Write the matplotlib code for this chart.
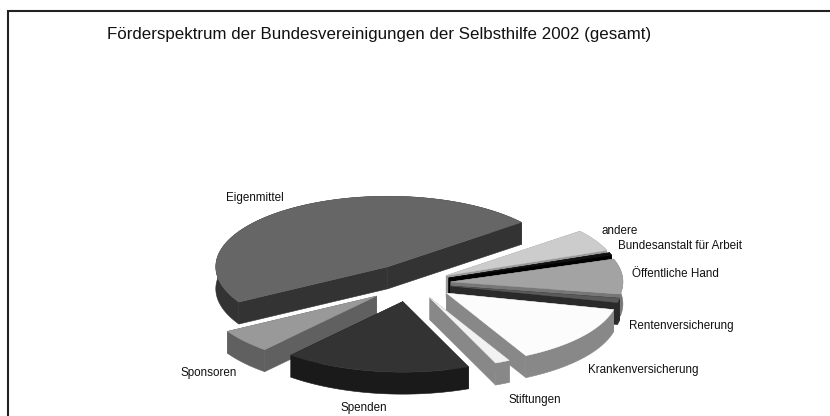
import numpy as np
import matplotlib
matplotlib.use('Agg')
import matplotlib.pyplot as plt
from matplotlib.patches import Polygon

plt.rcParams['font.family'] = ['Liberation Sans', 'DejaVu Sans']

# Shares in percent, clockwise on screen, starting at the "andere" slice
labels = ['andere', 'Bundesanstalt für Arbeit', 'Öffentliche Hand', 'Rentenversicherung',
          'Krankenversicherung', 'Stiftungen', 'Spenden', 'Sponsoren', 'Eigenmittel']
shares = [5.0, 0.6, 8.0, 1.0, 13.6, 1.4, 17.5, 5.4, 47.5]
top_colors = ['#cccccc', '#111111', '#a3a3a3', '#5a5a5a', '#fcfcfc', '#f2f2f2', '#333333', '#999999', '#666666']
side_colors = ['#999999', '#000000', '#777777', '#2a2a2a', '#888888', '#888888', '#1a1a1a', '#606060', '#333333']
explode = [36, 36, 36, 36, 40, 40, 46, 50, 48]
nudge_x = [0, 0, 0, 0, 0, -2, -5, 0, 0]
label_x = [601, 618, 632, 629, 588, 508, 340, 180, 226]
label_y = [231, 246, 274, 326, 370, 400, 408, 373, 198]

start_angle = -39
cx, cy = 415, 283
rx, tilt = 172, 0.41
depth = 22
# painter's order, back to front
draw_order = [8, 0, 1, 2, 3, 4, 5, 7, 6]

fig = plt.figure(figsize=(8.3, 4.16), dpi=100)
ax = fig.add_axes([0, 0, 1, 1])
ax.set_xlim(0, 830)
ax.set_ylim(416, 0)
ax.axis('off')

angles = start_angle + np.cumsum([0] + shares) * 3.6

for i in draw_order:
    a0, a1 = np.radians(angles[i]), np.radians(angles[i + 1])
    mid = (a0 + a1) / 2
    ox = cx + nudge_x[i] + explode[i] * np.cos(mid)
    oy = cy + explode[i] * np.sin(mid) * tilt
    t = np.linspace(a0, a1, max(int(np.degrees(a1 - a0)), 2) + 1)
    arc = np.column_stack([ox + rx * np.cos(t), oy + rx * tilt * np.sin(t)])
    apex = np.array([ox, oy])
    down = np.array([0, depth])

    # side walls: outer rim band plus the two cut faces
    rim = np.vstack([arc, (arc + down)[::-1]])
    cut0 = np.array([apex, arc[0], arc[0] + down, apex + down])
    cut1 = np.array([apex, arc[-1], arc[-1] + down, apex + down])
    for wall in (rim, cut0, cut1):
        ax.add_patch(Polygon(wall, closed=True, fc=side_colors[i], ec=side_colors[i], lw=0.4))
    ax.add_patch(Polygon(np.vstack([apex, arc]), closed=True, fc=top_colors[i], ec=top_colors[i], lw=0.3))

for name, x, y in zip(labels, label_x, label_y):
    ax.text(x, y, name, fontsize=8.4, ha='left', va='center', color='#111111')

ax.text(107, 34, 'Förderspektrum der Bundesvereinigungen der Selbsthilfe 2002 (gesamt)',
        fontsize=12.2, ha='left', va='center', color='#111111')

# frame only on the left and top
ax.plot([8, 8, 830], [416, 11, 11], color='#222222', lw=1.5, solid_joinstyle='miter')

fig.savefig('out.png', dpi=100)
